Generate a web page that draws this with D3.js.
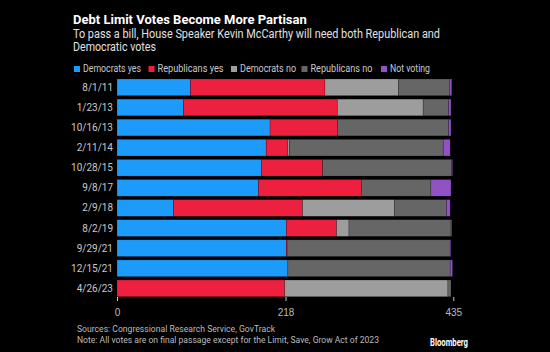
<!DOCTYPE html>
<html>
<head>
<meta charset="utf-8">
<script src="https://cdn.jsdelivr.net/npm/d3@7"></script>
<style>
  body { margin: 0; background: #000; }
  svg { display: block; font-family: Roboto, "Noto Sans", sans-serif; }
  .tick text { fill: #bbb; font-size: 10px; }
  .tick line { stroke: #ccc; }
</style>
</head>
<body>
<div id="chart"></div>
<script>
// vote dates, top to bottom
var dates = ["8/1/11", "1/23/13", "10/16/13", "2/11/14", "10/28/15", "9/8/17",
             "2/9/18", "8/2/19", "9/29/21", "12/15/21", "4/26/23"];

// vote counts per group, same order as dates
var demYes = [95, 86, 198, 193, 187, 183, 73, 219, 219, 221, 0];
var repYes = [174, 199, 87, 28, 79, 133, 167, 65, 1, 0, 217];
var demNo  = [95, 111, 0, 2, 0, 0, 119, 16, 0, 0, 211];
var repNo  = [66, 33, 144, 199, 167, 90, 67, 132, 211, 210, 4];
var notVoting = [3, 3, 3, 9, 1, 26, 5, 1, 1, 3, 0];

var groups = ["Democrats yes", "Republicans yes", "Democrats no", "Republicans no", "Not voting"];
var colors = ["#1c9bfb", "#ee2040", "#9d9d9d", "#666666", "#9152c6"];
var tickValues = [0, 218, 435];

function init() {
    var W = 550, H = 352;

    var svg = d3.select("#chart").append("svg")
        .attr("width", W)
        .attr("height", H)
        .style("background", "#000");

    // build rows for the stack
    var rows = dates.map(function(d, i) {
        return {
            date: d,
            "Democrats yes": demYes[i],
            "Republicans yes": repYes[i],
            "Democrats no": demNo[i],
            "Republicans no": repNo[i],
            "Not voting": notVoting[i]
        };
    });

    var x = d3.scaleLinear().domain([0, 435]).range([117, 453.3]);
    var y = d3.scaleBand().domain(dates).range([79, 296.7]).paddingInner(0.17).paddingOuter(0);
    var color = d3.scaleOrdinal().domain(groups).range(colors);

    var series = d3.stack().keys(groups)(rows);

    // title and subtitle
    svg.append("text")
        .attr("x", 73).attr("y", 24)
        .style("fill", "#fff").style("font-size", "13px").style("font-weight", "bold")
        .text("Debt Limit Votes Become More Partisan");

    svg.append("text")
        .attr("x", 73).attr("y", 38)
        .attr("textLength", 367).attr("lengthAdjust", "spacingAndGlyphs")
        .style("fill", "#e0e0e0").style("font-size", "12px")
        .text("To pass a bill, House Speaker Kevin McCarthy will need both Republican and");
    svg.append("text")
        .attr("x", 73).attr("y", 51)
        .attr("textLength", 83).attr("lengthAdjust", "spacingAndGlyphs")
        .style("fill", "#e0e0e0").style("font-size", "12px")
        .text("Democratic votes");

    // legend
    var legendX = [74, 148.5, 231, 301.5, 381];
    var legendW = [58, 66, 56, 62, 40];
    var legend = svg.selectAll(".legend")
        .data(groups)
        .enter().append("g")
        .attr("class", "legend")
        .attr("transform", function(d, i) { return "translate(" + legendX[i] + ",66)"; });
    legend.append("rect")
        .attr("width", 6).attr("height", 6)
        .style("fill", function(d) { return color(d); });
    legend.append("text")
        .attr("x", 9).attr("y", 6)
        .attr("textLength", function(d, i) { return legendW[i]; })
        .attr("lengthAdjust", "spacingAndGlyphs")
        .style("fill", "#c8c8c8").style("font-size", "10px")
        .text(function(d) { return d; });

    // stacked bars
    svg.append("g")
        .selectAll("g")
        .data(series)
        .enter().append("g")
        .style("fill", function(d) { return color(d.key); })
        .selectAll("rect")
        .data(function(d) { return d; })
        .enter().append("rect")
        .attr("x", function(d) { return x(d[0]); })
        .attr("y", function(d) { return y(d.data.date); })
        .attr("width", function(d) { return x(d[1]) - x(d[0]); })
        .attr("height", y.bandwidth())
        .style("stroke", "rgba(0,0,0,0.3)")
        .style("stroke-width", 0.6);

    // row labels
    svg.append("g")
        .selectAll("text")
        .data(dates)
        .enter().append("text")
        .attr("x", 113)
        .attr("y", function(d) { return y(d) + y.bandwidth() / 2; })
        .attr("dy", "0.35em")
        .attr("text-anchor", "end")
        .style("fill", "#c8c8c8").style("font-size", "10px")
        .text(function(d) { return d; });

    // x axis
    var xAxis = d3.axisBottom(x).tickValues(tickValues).tickSize(4).tickPadding(8);
    svg.append("g")
        .attr("transform", "translate(0,297)")
        .call(xAxis)
        .call(function(g) { g.select(".domain").remove(); });

    // footer
    svg.append("text")
        .attr("x", 77).attr("y", 332)
        .attr("textLength", 198).attr("lengthAdjust", "spacingAndGlyphs")
        .style("fill", "#bbb").style("font-size", "9.5px")
        .text("Sources: Congressional Research Service, GovTrack");
    svg.append("text")
        .attr("x", 77).attr("y", 342.5)
        .attr("textLength", 302).attr("lengthAdjust", "spacingAndGlyphs")
        .style("fill", "#bbb").style("font-size", "9.5px")
        .text("Note: All votes are on final passage except for the Limit, Save, Grow Act of 2023");
    svg.append("text")
        .attr("x", 430).attr("y", 345.5)
        .attr("textLength", 38).attr("lengthAdjust", "spacingAndGlyphs")
        .style("fill", "#fff").style("font-size", "10.5px").style("font-weight", "bold")
        .text("Bloomberg");
}
init();
</script>
</body>
</html>
